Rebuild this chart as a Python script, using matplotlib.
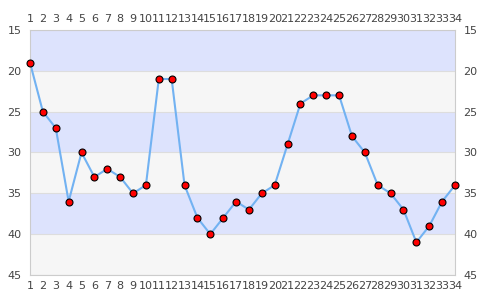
import matplotlib
matplotlib.use("Agg")
import matplotlib.pyplot as plt

x = list(range(1, 35))
values = [19, 25, 27, 36, 30, 33, 32, 33, 35, 34, 21, 21, 34, 38, 40, 38, 36, 37, 35, 34,
          29, 24, 23, 23, 23, 28, 30, 34, 35, 37, 41, 39, 36, 34]
y_ticks = [15, 20, 25, 30, 35, 40, 45]
bands = [(15, 20, '#dde3fd'), (20, 25, '#f6f6f6'), (25, 30, '#dde3fd'),
         (30, 35, '#f6f6f6'), (35, 40, '#dde3fd'), (40, 45, '#f6f6f6')]

fig = plt.figure(figsize=(4.85, 3.0), dpi=100)
ax = fig.add_axes([30/485, 25/300, 425/485, 245/300])
for lo, hi, c in bands:
    ax.axhspan(lo, hi, color=c, zorder=0, lw=0)
for t in y_ticks:
    ax.axhline(t, color='#dddddd', lw=0.8, zorder=1)

ax.plot(x, values, color='#72b2f2', lw=1.5, zorder=2, clip_on=False)
ax.plot(x, values, 'o', ms=5, mfc='#ff0000', mec='#000000', mew=0.8, zorder=3, clip_on=False)

ax.set_xlim(1, 34)
ax.set_ylim(45, 15)
ax.set_yticks(y_ticks)
ax.set_xticks(x)
ax.tick_params(axis='both', length=0, labelsize=8, colors='#444444',
               top=True, labeltop=True, right=True, labelright=True)
ax.tick_params(axis='x', pad=4)
ax.tick_params(axis='y', pad=6)
for s in ax.spines.values():
    s.set_color('#cccccc')
    s.set_linewidth(0.8)

fig.savefig('out.png', dpi=100)
